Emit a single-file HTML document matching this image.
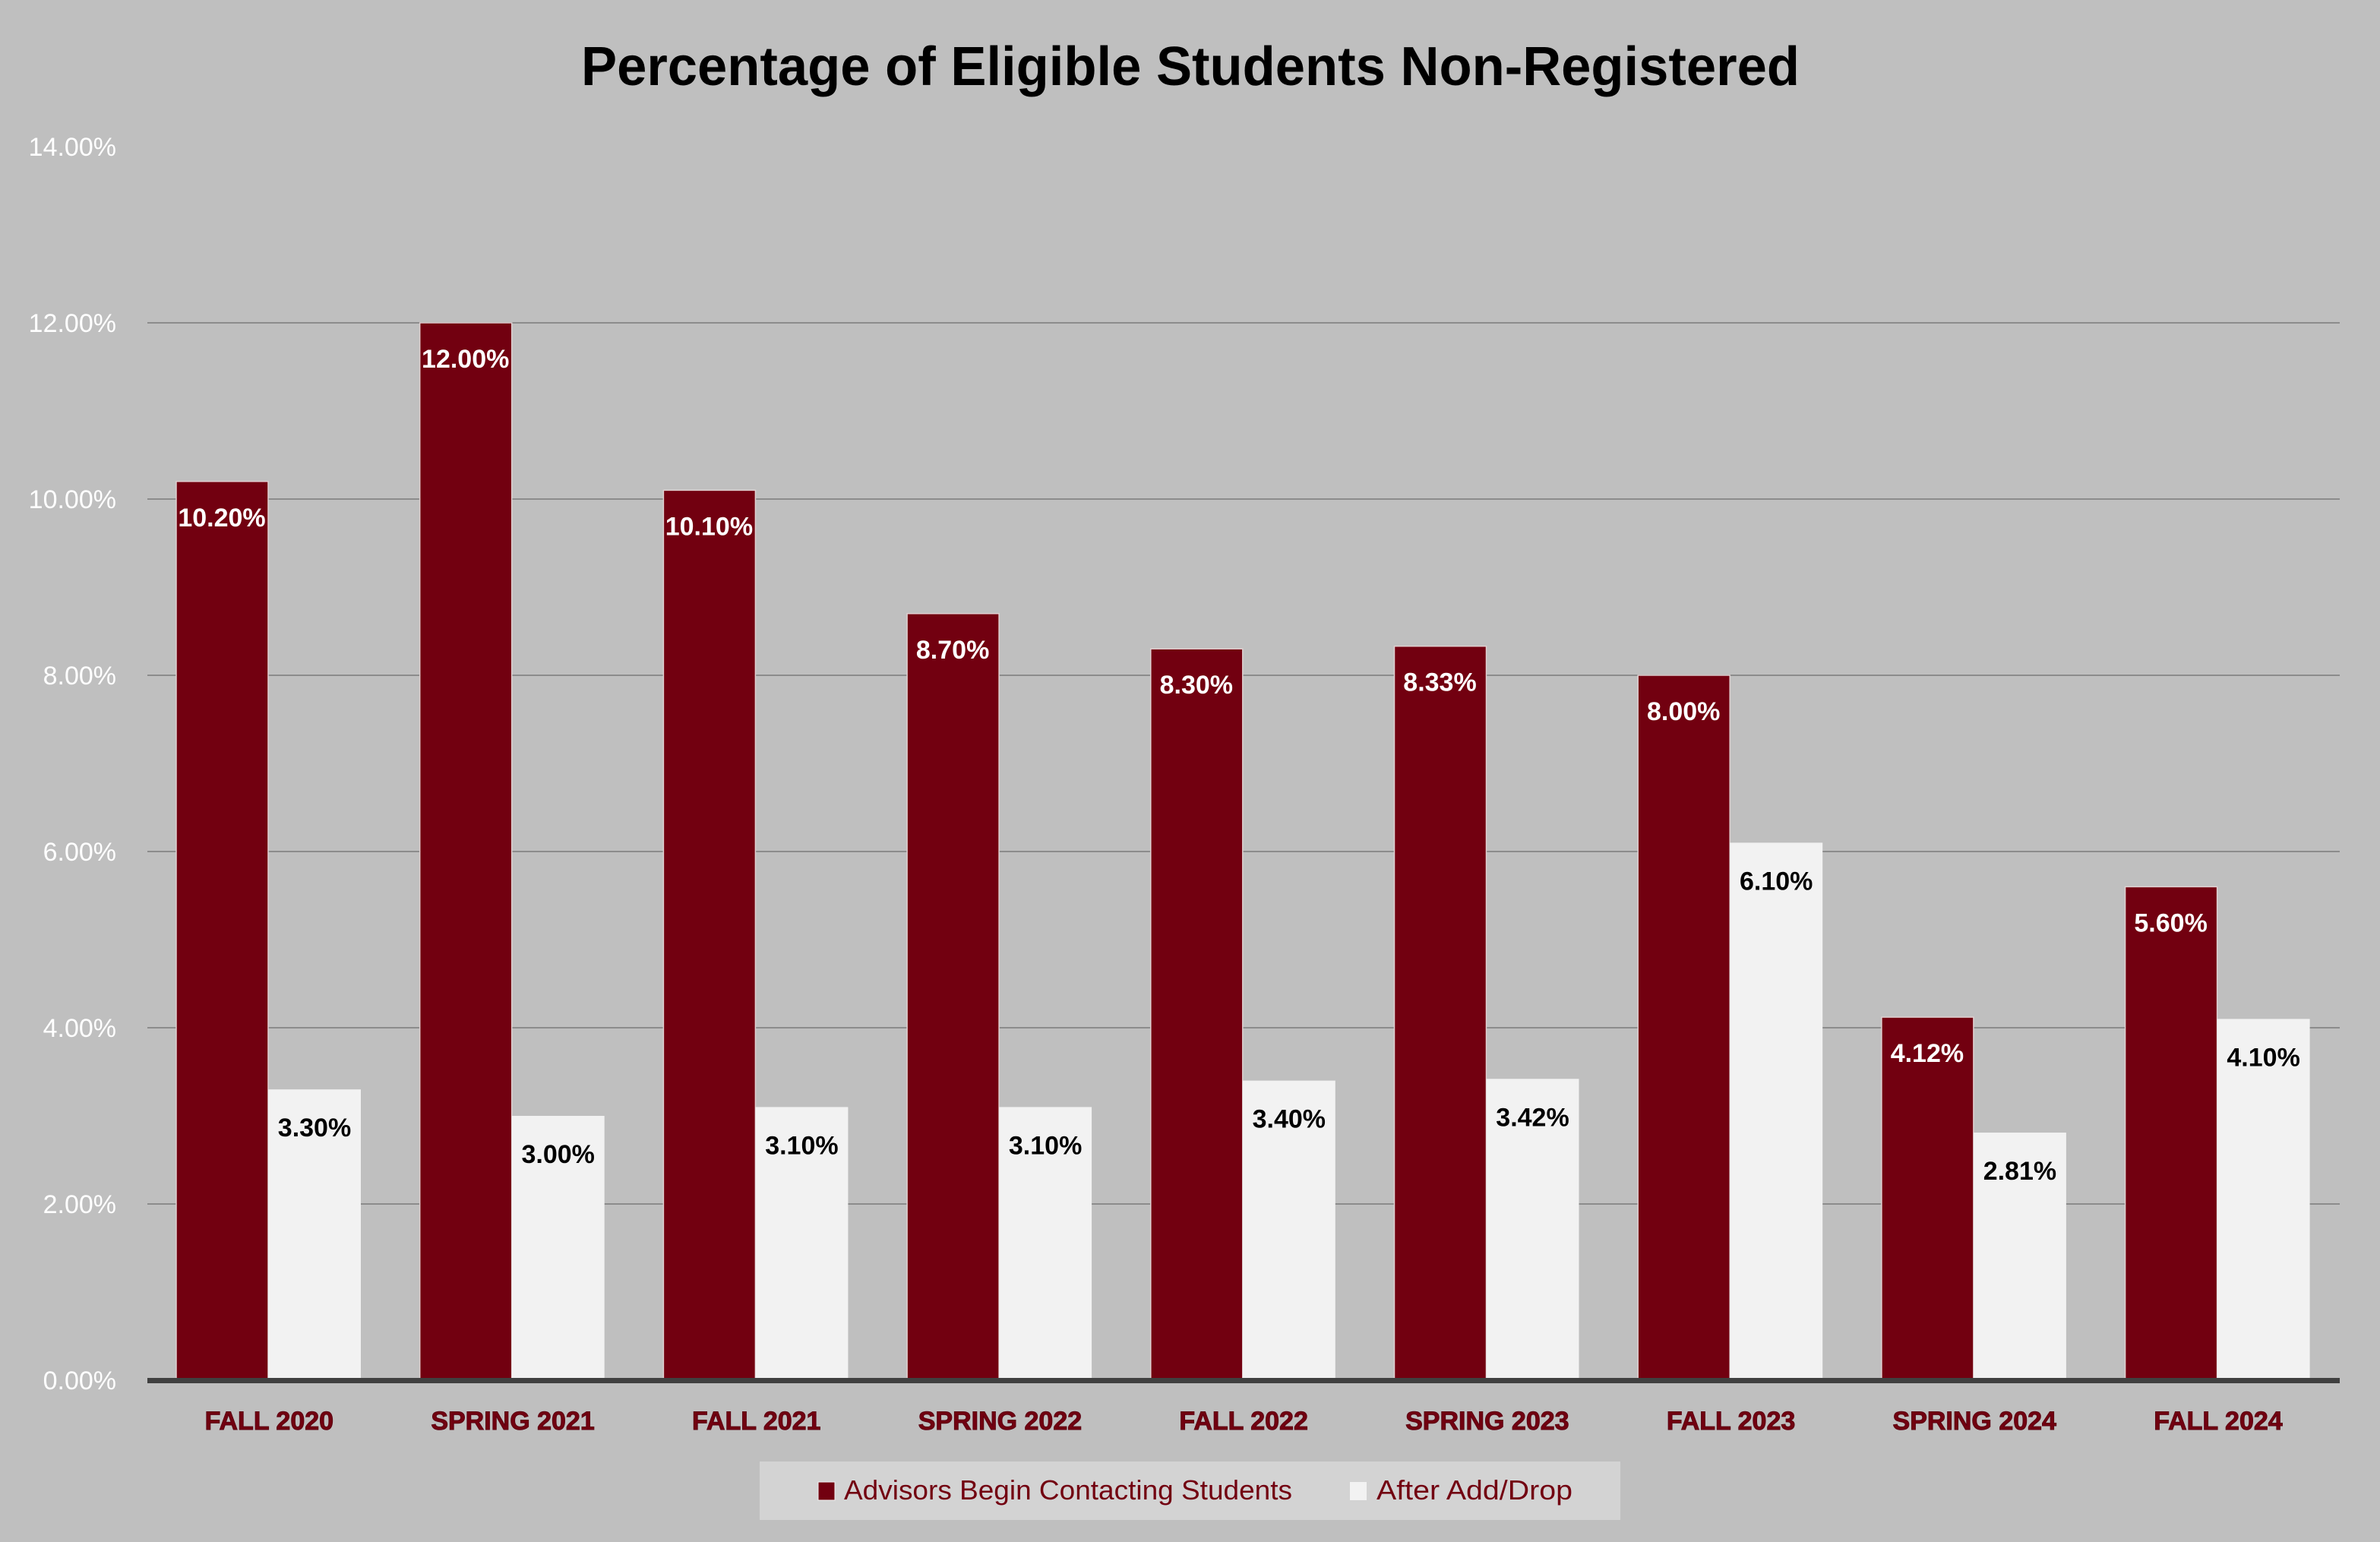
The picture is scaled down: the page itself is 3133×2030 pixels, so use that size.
<!DOCTYPE html>
<html><head><meta charset="utf-8"><style>
html,body{margin:0;padding:0;background:#bfbfbf;}
svg{display:block;}
</style></head><body>
<svg width="3133" height="2030" viewBox="0 0 3133 2030" xmlns="http://www.w3.org/2000/svg" font-family="Liberation Sans, sans-serif">
<rect width="3133" height="2030" fill="#bfbfbf"/>
<text x="1567" y="112" font-size="72" font-weight="bold" text-anchor="middle" fill="#000" textLength="1604" lengthAdjust="spacingAndGlyphs">Percentage of Eligible Students Non-Registered</text>
<g stroke="#8c8c8c" stroke-width="2">
<line x1="194" x2="3080" y1="1585" y2="1585"/>
<line x1="194" x2="3080" y1="1353" y2="1353"/>
<line x1="194" x2="3080" y1="1121" y2="1121"/>
<line x1="194" x2="3080" y1="889" y2="889"/>
<line x1="194" x2="3080" y1="657" y2="657"/>
<line x1="194" x2="3080" y1="425" y2="425"/>
</g>
<g font-size="34" fill="#fff" text-anchor="end">
<text x="153" y="1829">0.00%</text>
<text x="153" y="1597">2.00%</text>
<text x="153" y="1365">4.00%</text>
<text x="153" y="1133">6.00%</text>
<text x="153" y="901">8.00%</text>
<text x="153" y="669">10.00%</text>
<text x="153" y="437">12.00%</text>
<text x="153" y="205">14.00%</text>
</g>
<g id="bars"></g>
<rect x="194" y="1814" width="2886" height="7" fill="#404040"/>
<g id="xl" font-size="34" font-weight="bold" fill="#720010" stroke="#5a0010" stroke-width="1" text-anchor="middle"></g>
<rect x="1000" y="1924" width="1133" height="77" fill="#d3d3d3"/>
<rect x="1077" y="1951" width="22" height="24" fill="#720010" stroke="#f2f2f2" stroke-width="1"/>
<text x="1111" y="1974" font-size="36" fill="#720010" textLength="590" lengthAdjust="spacingAndGlyphs">Advisors Begin Contacting Students</text>
<rect x="1777" y="1951" width="22" height="24" fill="#f2f2f2"/>
<text x="1812" y="1974" font-size="36" fill="#720010" textLength="258" lengthAdjust="spacingAndGlyphs">After Add/Drop</text>
<script>
var cats=["FALL 2020","SPRING 2021","FALL 2021","SPRING 2022","FALL 2022","SPRING 2023","FALL 2023","SPRING 2024","FALL 2024"];
var a=[10.2,12,10.1,8.7,8.3,8.33,8,4.12,5.6],b=[3.3,3,3.1,3.1,3.4,3.42,6.1,2.81,4.1];
var NS="http://www.w3.org/2000/svg",g=document.getElementById("bars"),xl=document.getElementById("xl");
function el(t,at,p,txt){var e=document.createElementNS(NS,t);for(var k in at)e.setAttribute(k,at[k]);if(txt)e.textContent=txt;p.appendChild(e);}
function y(v){return 1817-v*116;}
for(var i=0;i<9;i++){
 var x0=194+320.7*i+38;
 el("rect",{x:x0,y:y(a[i]),width:121,height:1817-y(a[i]),fill:"#720010",stroke:"#e0d0d0","stroke-width":1.5},g);
 el("rect",{x:x0+121,y:y(b[i]),width:122,height:1817-y(b[i]),fill:"#f2f2f2"},g);
 el("text",{x:x0+60,y:y(a[i])+59,"font-size":34,"font-weight":"bold",fill:"#fff","text-anchor":"middle"},g,a[i].toFixed(2)+"%");
 el("text",{x:x0+182,y:y(b[i])+62,"font-size":34,"font-weight":"bold",fill:"#000","text-anchor":"middle"},g,b[i].toFixed(2)+"%");
 el("text",{x:194+320.7*(i+0.5),y:1882},xl,cats[i]);
}
</script>
</svg>
</body></html>
